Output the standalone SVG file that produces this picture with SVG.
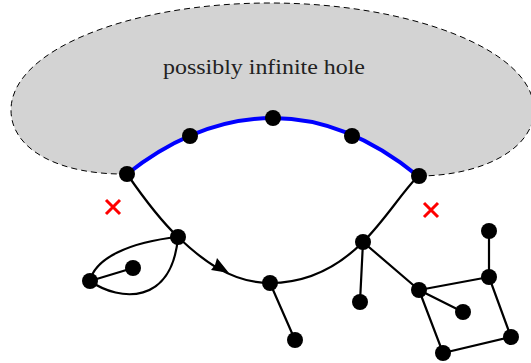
<svg xmlns="http://www.w3.org/2000/svg" width="531" height="363" viewBox="0 0 531 363">
<style>
.e{fill:none;stroke:#000;stroke-width:2.2;stroke-linecap:round}
.n{fill:#000}
.x{stroke:#f00;stroke-width:3;fill:none}
.t{font-family:'Liberation Serif','DejaVu Serif',serif;font-size:20px;fill:#222}
</style>
<g id="hole">
<path d="M127,174 C60,175 11,150 11,110 C11,50 130,3 270,3 C410,3 534,50 534,110 C534,150 480,176 418,176 C380,145 330,118 273,118 C220,118 170,140 127,174 z" fill="#d3d3d3" stroke="#000" stroke-width="1" stroke-dasharray="6,4"/>
<path d="M127,174 C170,140 220,118 273,118 C330,118 380,145 418,176" fill="none" stroke="#00f" stroke-width="4"/>
<text class="t" x="264" y="74" text-anchor="middle" textLength="202" lengthAdjust="spacingAndGlyphs">possibly infinite hole</text>
</g>
<g id="connectors">
<path class="e" d="M127,174 C145,200 160,220 178,237 C200,258 230,283 270,283 C310,283 340,265 363,242 C385,220 400,195 418,176"/>
<path d="M229,273 L211,270 L215,265 L217,258 z" fill="#000"/>
<path class="e" d="M178,237 C130,242 95,258 90,281"/>
<path class="e" d="M90,281 C120,302 172,305 178,237"/>
<path class="e" d="M90,281 L133,268"/>
<path class="e" d="M270,283 L295,340"/>
<path class="e" d="M363,242 L360,302 M363,242 L419,290 M419,290 L489,277 M419,290 L463,312 M419,290 L443,353 L511,337 L489,277 L489,231"/>
</g>
<g id="crosses">
<path class="x" d="M106,200 L120,214 M120,200 L106,214"/>
<path class="x" d="M424,203 L438,217 M438,203 L424,217"/>
</g>
<g id="nodes">
<circle id="a1" class="n" cx="127" cy="174" r="8"/>
<circle id="a2" class="n" cx="190" cy="136" r="8"/>
<circle id="a3" class="n" cx="273" cy="118" r="8"/>
<circle id="a4" class="n" cx="352" cy="136" r="8"/>
<circle id="a5" class="n" cx="419" cy="176" r="8"/>
<circle id="b1" class="n" cx="178" cy="237" r="8"/>
<circle id="b2" class="n" cx="90" cy="281" r="8"/>
<circle id="b3" class="n" cx="133" cy="268" r="8"/>
<circle id="c1" class="n" cx="270" cy="283" r="8"/>
<circle id="c2" class="n" cx="295" cy="340" r="8"/>
<circle id="d1" class="n" cx="363" cy="242" r="8"/>
<circle id="d2" class="n" cx="360" cy="302" r="8"/>
<circle id="d3" class="n" cx="419" cy="290" r="8"/>
<circle id="d4" class="n" cx="463" cy="312" r="8"/>
<circle id="d5" class="n" cx="489" cy="277" r="8"/>
<circle id="d6" class="n" cx="489" cy="231" r="8"/>
<circle id="d7" class="n" cx="511" cy="337" r="8"/>
<circle id="d8" class="n" cx="443" cy="353" r="8"/>
</g>
</svg>
